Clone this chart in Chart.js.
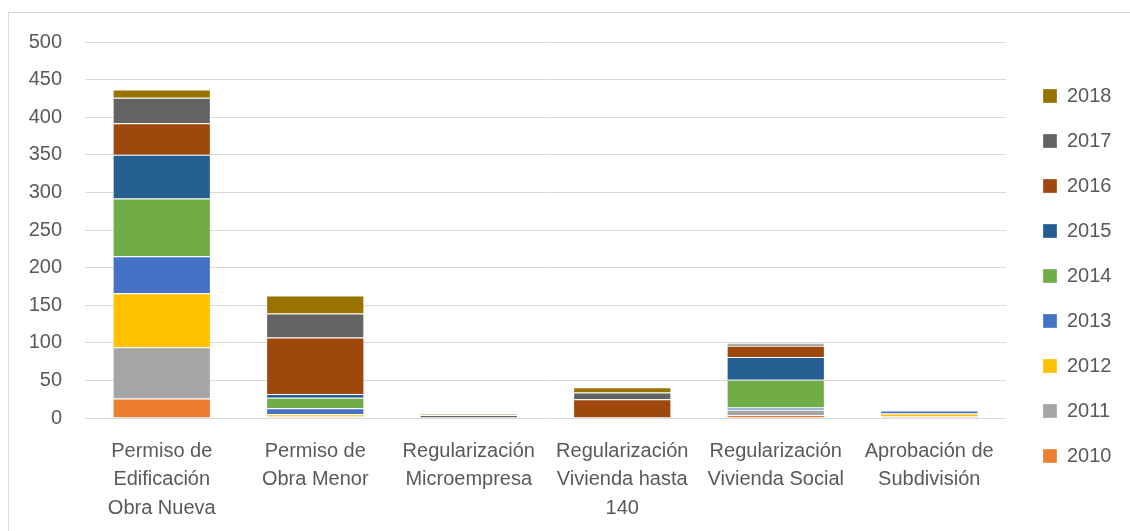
<!DOCTYPE html>
<html>
<head>
<meta charset="utf-8">
<script src="https://cdn.jsdelivr.net/npm/chart.js@4.4.0/dist/chart.umd.min.js"></script>
<style>
  body { margin: 0; background: #fff; }
  #box { position: absolute; left: 8px; top: 12px; border: 1px solid #d9d9d9; }
</style>
</head>
<body>
<div id="box"><canvas id="grafico" width="1121" height="518"></canvas></div>
<script>
const categorias = [
  ['Permiso de', 'Edificación', 'Obra Nueva'],
  ['Permiso de', 'Obra Menor'],
  ['Regularización', 'Microempresa'],
  ['Regularización', 'Vivienda hasta', '140'],
  ['Regularización', 'Vivienda Social'],
  ['Aprobación de', 'Subdivisión']
];

const anios = ['2010', '2011', '2012', '2013', '2014', '2015', '2016', '2017', '2018'];

const v2010 = [26, 1, 0, 0, 4, 0];
const v2011 = [68, 1, 0, 0, 7, 2];
const v2012 = [72, 3, 0, 0, 0, 4];
const v2013 = [49, 8, 0, 0, 3, 4];
const v2014 = [77, 14, 0, 0, 37, 0];
const v2015 = [58, 5, 0, 0, 30, 0];
const v2016 = [42, 75, 0, 25, 15, 0];
const v2017 = [34, 32, 4, 9, 3, 0];
const v2018 = [11, 24, 1, 7, 1, 0];

const yTicks = [0, 50, 100, 150, 200, 250, 300, 350, 400, 450, 500];

const colores = ['#ED7D31', '#A5A5A5', '#FFC000', '#4472C4', '#70AD47', '#255E91', '#9E480E', '#636363', '#997300'];
const series = [v2010, v2011, v2012, v2013, v2014, v2015, v2016, v2017, v2018];

const fuente = { family: "'Liberation Sans', Arial, sans-serif", size: 20 };

const ctx = document.getElementById('grafico');

const data = {
  labels: categorias,
  datasets: anios.map((a, i) => ({
    label: a,
    data: series[i],
    backgroundColor: colores[i],
    borderColor: 'rgba(255,255,255,0.3)',
    borderWidth: 1,
    barPercentage: 0.64,
    categoryPercentage: 1
  }))
};

// coloca la leyenda donde está en el original
const ajusteLeyenda = {
  id: 'ajusteLeyenda',
  beforeInit(chart) {
    const fitOrig = chart.legend.fit;
    chart.legend.fit = function () {
      fitOrig.call(this);
      this.width = 124;
    };
  },
  afterLayout(chart) {
    const lg = chart.legend;
    lg.left = 1009;
    lg.right = 1121;
    lg.top = 8;
    lg.bottom = 518;
  }
};

const config = {
  type: 'bar',
  data: data,
  options: {
    responsive: false,
    animation: false,
    layout: { padding: { top: 29, left: 0, right: 0, bottom: 0 } },
    scales: {
      x: {
        stacked: true,
        grid: { display: false },
        border: { display: false },
        ticks: { color: '#595959', font: { ...fuente, lineHeight: 1.42 }, padding: 11, maxRotation: 0, autoSkip: false },
        afterFit(axis) { axis.height = 113; }
      },
      y: {
        stacked: true,
        min: 0,
        max: 500,
        afterBuildTicks(axis) { axis.ticks = yTicks.map(v => ({ value: v })); },
        grid: { color: '#d9d9d9', lineWidth: 1, drawTicks: false },
        border: { display: false },
        ticks: { color: '#595959', font: fuente, padding: 23 },
        afterFit(axis) { axis.width = 76; axis.paddingTop = 0; axis.paddingBottom = 0; }
      }
    },
    plugins: {
      legend: {
        position: 'right',
        reverse: true,
        labels: { color: '#595959', font: fuente, boxWidth: 14, boxHeight: 14, padding: 25 }
      },
      tooltip: { enabled: false }
    }
  },
  plugins: [ajusteLeyenda]
};

new Chart(ctx, config);
</script>
</body>
</html>
